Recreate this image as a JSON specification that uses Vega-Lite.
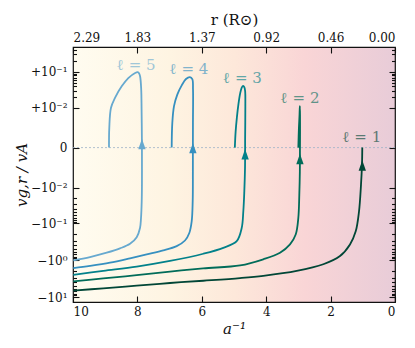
{
  "$schema": "https://vega.github.io/schema/vega-lite/v6.json",
  "width": 322,
  "height": 255,
  "autosize": "none",
  "padding": {"left": 73, "top": 47, "right": 20, "bottom": 46},
  "background": "white",
  "datasets": {
    "curves": [
      {"l":5,"i":0,"x":9.991,"y":-1.006},{"l":5,"i":1,"x":9.472,"y":-0.821},{"l":5,"i":2,"x":8.953,"y":-0.629},{"l":5,"i":3,"x":8.540,"y":-0.480},{"l":5,"i":4,"x":8.230,"y":-0.361},{"l":5,"i":5,"x":8.022,"y":-0.239},{"l":5,"i":6,"x":7.919,"y":-0.134},{"l":5,"i":7,"x":7.888,"y":-0.072},{"l":5,"i":8,"x":7.866,"y":-0.0251},{"l":5,"i":9,"x":7.859,"y":-0.0083},{"l":5,"i":10,"x":7.859,"y":-0.0002},{"l":5,"i":11,"x":7.860,"y":0.0005},{"l":5,"i":12,"x":7.870,"y":0.0088},{"l":5,"i":13,"x":7.882,"y":0.0334},{"l":5,"i":14,"x":7.915,"y":0.0749},{"l":5,"i":15,"x":7.950,"y":0.092},{"l":5,"i":16,"x":7.990,"y":0.0985},{"l":5,"i":17,"x":8.070,"y":0.0935},{"l":5,"i":18,"x":8.283,"y":0.0677},{"l":5,"i":19,"x":8.488,"y":0.0400},{"l":5,"i":20,"x":8.696,"y":0.0191},{"l":5,"i":21,"x":8.820,"y":0.00984},{"l":5,"i":22,"x":8.873,"y":0.00216},{"l":5,"i":23,"x":8.882,"y":0},
      {"l":4,"i":0,"x":9.991,"y":-1.648},{"l":4,"i":1,"x":9.472,"y":-1.430},{"l":4,"i":2,"x":8.851,"y":-1.167},{"l":4,"i":3,"x":8.230,"y":-0.889},{"l":4,"i":4,"x":7.711,"y":-0.695},{"l":4,"i":5,"x":7.196,"y":-0.543},{"l":4,"i":6,"x":6.780,"y":-0.416},{"l":4,"i":7,"x":6.522,"y":-0.293},{"l":4,"i":8,"x":6.388,"y":-0.183},{"l":4,"i":9,"x":6.314,"y":-0.0886},{"l":4,"i":10,"x":6.283,"y":-0.0251},{"l":4,"i":11,"x":6.277,"y":-0.00312},{"l":4,"i":12,"x":6.277,"y":-0.0002},{"l":4,"i":13,"x":6.275,"y":0.0033},{"l":4,"i":14,"x":6.273,"y":0.0334},{"l":4,"i":15,"x":6.295,"y":0.0636},{"l":4,"i":16,"x":6.370,"y":0.0721},{"l":4,"i":17,"x":6.491,"y":0.0636},{"l":4,"i":18,"x":6.624,"y":0.0426},{"l":4,"i":19,"x":6.761,"y":0.0236},{"l":4,"i":20,"x":6.863,"y":0.0110},{"l":4,"i":21,"x":6.916,"y":0.0033},{"l":4,"i":22,"x":6.935,"y":0},
      {"l":3,"i":0,"x":9.991,"y":-2.490},{"l":3,"i":1,"x":9.059,"y":-1.947},{"l":3,"i":2,"x":8.022,"y":-1.493},{"l":3,"i":3,"x":6.988,"y":-1.051},{"l":3,"i":4,"x":5.953,"y":-0.670},{"l":3,"i":5,"x":5.332,"y":-0.463},{"l":3,"i":6,"x":4.916,"y":-0.306},{"l":3,"i":7,"x":4.761,"y":-0.134},{"l":3,"i":8,"x":4.711,"y":-0.0474},{"l":3,"i":9,"x":4.680,"y":-0.0131},{"l":3,"i":10,"x":4.658,"y":-0.00236},{"l":3,"i":11,"x":4.655,"y":-0.0002},{"l":3,"i":12,"x":4.655,"y":0.0005},{"l":3,"i":13,"x":4.648,"y":0.011},{"l":3,"i":14,"x":4.655,"y":0.030},{"l":3,"i":15,"x":4.680,"y":0.038},{"l":3,"i":16,"x":4.715,"y":0.041},{"l":3,"i":17,"x":4.760,"y":0.037},{"l":3,"i":18,"x":4.810,"y":0.025},{"l":3,"i":19,"x":4.860,"y":0.013},{"l":3,"i":20,"x":4.910,"y":0.005},{"l":3,"i":21,"x":4.950,"y":0.0015},{"l":3,"i":22,"x":4.974,"y":0},
      {"l":2,"i":0,"x":9.991,"y":-3.762},{"l":2,"i":1,"x":9.059,"y":-3.127},{"l":2,"i":2,"x":8.022,"y":-2.538},{"l":2,"i":3,"x":6.988,"y":-2.032},{"l":2,"i":4,"x":5.957,"y":-1.670},{"l":2,"i":5,"x":4.809,"y":-1.387},{"l":2,"i":6,"x":4.090,"y":-0.946},{"l":2,"i":7,"x":3.571,"y":-0.629},{"l":2,"i":8,"x":3.261,"y":-0.375},{"l":2,"i":9,"x":3.084,"y":-0.202},{"l":2,"i":10,"x":3.003,"y":-0.072},{"l":2,"i":11,"x":2.972,"y":-0.0163},{"l":2,"i":12,"x":2.955,"y":-0.00312},{"l":2,"i":13,"x":2.952,"y":-0.0002},{"l":2,"i":14,"x":2.950,"y":0.0005},{"l":2,"i":15,"x":2.950,"y":0.006},{"l":2,"i":16,"x":2.955,"y":0.0110},{"l":2,"i":17,"x":2.965,"y":0.006},{"l":2,"i":18,"x":2.985,"y":0.002},{"l":2,"i":19,"x":3.002,"y":0},
      {"l":1,"i":0,"x":9.991,"y":-6.668},{"l":1,"i":1,"x":9.059,"y":-5.789},{"l":1,"i":2,"x":8.022,"y":-4.905},{"l":1,"i":3,"x":6.988,"y":-4.150},{"l":1,"i":4,"x":5.953,"y":-3.603},{"l":1,"i":5,"x":4.814,"y":-3.049},{"l":1,"i":6,"x":4.090,"y":-2.646},{"l":1,"i":7,"x":3.053,"y":-1.947},{"l":1,"i":8,"x":2.227,"y":-1.288},{"l":1,"i":9,"x":1.708,"y":-0.772},{"l":1,"i":10,"x":1.398,"y":-0.375},{"l":1,"i":11,"x":1.220,"y":-0.165},{"l":1,"i":12,"x":1.118,"y":-0.0474},{"l":1,"i":13,"x":1.056,"y":-0.0083},{"l":1,"i":14,"x":1.025,"y":-0.00173},{"l":1,"i":15,"x":1.016,"y":0}
    ],
    "arrows": [
      {"l":5,"x":7.859,"y":0.000225},{"l":4,"x":6.277,"y":-0.00003},{"l":3,"x":4.655,"y":-0.00047},{"l":2,"x":2.952,"y":-0.00094},{"l":1,"x":1.016,"y":-0.00185}
    ],
    "labels": [
      {"l":5,"x":8.04,"y":0.155,"text":"ℓ = 5"},{"l":4,"x":6.40,"y":0.119,"text":"ℓ = 4"},{"l":3,"x":4.74,"y":0.070,"text":"ℓ = 3"},{"l":2,"x":2.95,"y":0.0186,"text":"ℓ = 2"},{"l":1,"x":1.03,"y":0.00082,"text":"ℓ = 1"}
    ],
    "zero": [{"v":0}]
  },
  "layer": [
    {
      "data": {"name": "zero"},
      "mark": {"type": "rule", "color": "#9db3c6", "strokeWidth": 0.8, "strokeDash": [2, 2]},
      "encoding": {
        "y": {"field": "v", "type": "quantitative",
          "scale": {"type": "symlog", "constant": 0.0009, "domain": [-13.56, 0.474], "nice": false, "zero": false},
          "axis": {"orient": "right", "labels": false, "title": null, "tickSize": -3.5,
            "values": [-9,-8,-7,-6,-5,-4,-3,-2,-0.9,-0.8,-0.7,-0.6,-0.5,-0.4,-0.3,-0.2,-0.09,-0.08,-0.07,-0.06,-0.05,-0.04,-0.03,-0.02,0.02,0.03,0.04,0.05,0.06,0.07,0.08,0.09,0.2,0.3,0.4]}}
      }
    },
    {
      "data": {"name": "curves"},
      "mark": {"type": "line", "strokeWidth": 1.8, "interpolate": "catmull-rom"},
      "encoding": {
        "x": {"field": "x", "type": "quantitative",
          "scale": {"domain": [10, 0], "nice": false, "zero": false},
          "axis": {"orient": "bottom", "values": [10, 8, 6, 4, 2, 0], "title": "a⁻¹", "titleFontStyle": "italic", "labelPadding": 10, "titlePadding": 4}},
        "y": {"field": "y", "type": "quantitative",
          "scale": {"type": "symlog", "constant": 0.0009, "domain": [-13.56, 0.474], "nice": false, "zero": false},
          "axis": {"orient": "left", "values": [-10, -1, -0.1, -0.01, 0, 0.01, 0.1],
            "labelExpr": "datum.value == 0.1 ? '+10⁻¹' : datum.value == 0.01 ? '+10⁻²' : datum.value == 0 ? '0' : datum.value == -0.01 ? '−10⁻²' : datum.value == -0.1 ? '−10⁻¹' : datum.value == -1 ? '−10⁰' : '−10¹'",
            "title": "vg,r / vA", "titleFontStyle": "italic", "labelPadding": 12, "titlePadding": 1}},
        "color": {"field": "l", "type": "ordinal", "legend": null,
          "scale": {"domain": [1, 2, 3, 4, 5], "range": ["#014636", "#016c59", "#02818a", "#3690c0", "#67a9cf"]}},
        "detail": {"field": "l"},
        "order": {"field": "i", "type": "quantitative"}
      }
    },
    {
      "data": {"name": "arrows"},
      "mark": {"type": "point", "filled": true, "opacity": 1, "size": 110, "shape": "M0,-1L0.7,1L-0.7,1Z"},
      "encoding": {
        "x": {"field": "x", "type": "quantitative",
          "scale": {"domain": [10, 0], "nice": false, "zero": false},
          "axis": {"orient": "top", "values": [10, 8, 6, 4, 2, 0], "labelExpr": "format(datum.value * 0.229, '.2f')", "title": "r (R⊙)", "labelPadding": 9, "titlePadding": 4}},
        "y": {"field": "y", "type": "quantitative",
          "scale": {"type": "symlog", "constant": 0.0009, "domain": [-13.56, 0.474], "nice": false, "zero": false},
          "axis": {"orient": "right", "values": [-10, -1, -0.1, -0.01, 0, 0.01, 0.1], "labels": false, "title": null}},
        "color": {"field": "l", "type": "ordinal", "legend": null,
          "scale": {"domain": [1, 2, 3, 4, 5], "range": ["#014636", "#016c59", "#02818a", "#3690c0", "#67a9cf"]}}
      }
    },
    {
      "data": {"name": "labels"},
      "mark": {"type": "text", "font": "DejaVu Serif", "fontSize": 15, "opacity": 0.62, "baseline": "middle", "align": "center"},
      "encoding": {
        "x": {"field": "x", "type": "quantitative", "scale": {"domain": [10, 0], "nice": false, "zero": false}, "axis": null},
        "y": {"field": "y", "type": "quantitative",
          "scale": {"type": "symlog", "constant": 0.0009, "domain": [-13.56, 0.474], "nice": false, "zero": false},
          "axis": {"orient": "left", "labels": false, "title": null, "tickSize": -3.5,
            "values": [-9,-8,-7,-6,-5,-4,-3,-2,-0.9,-0.8,-0.7,-0.6,-0.5,-0.4,-0.3,-0.2,-0.09,-0.08,-0.07,-0.06,-0.05,-0.04,-0.03,-0.02,0.02,0.03,0.04,0.05,0.06,0.07,0.08,0.09,0.2,0.3,0.4]}},
        "text": {"field": "text"},
        "color": {"field": "l", "type": "ordinal", "legend": null,
          "scale": {"domain": [1, 2, 3, 4, 5], "range": ["#014636", "#016c59", "#02818a", "#3690c0", "#67a9cf"]}}
      }
    }
  ],
  "resolve": {"axis": {"x": "independent", "y": "independent"}},
  "config": {
    "font": "DejaVu Serif",
    "view": {
      "stroke": "#111111",
      "strokeWidth": 1.2,
      "fill": {"gradient": "linear", "x1": 0, "y1": 0, "x2": 1, "y2": 0,
        "stops": [
          {"offset": 0, "color": "#fffcf0"},
          {"offset": 0.3, "color": "#fef4e2"},
          {"offset": 0.5, "color": "#fde8da"},
          {"offset": 0.72, "color": "#f9d5d6"},
          {"offset": 1, "color": "#e8ccd8"}
        ]}
    },
    "axis": {
      "grid": false, "domain": false, "zindex": 1,
      "labelFont": "DejaVu Serif", "labelFontSize": 12, "labelColor": "#111111",
      "titleFont": "DejaVu Serif", "titleFontSize": 15, "titleFontWeight": "normal", "titleColor": "#111111",
      "tickColor": "#111111", "tickSize": -6, "tickWidth": 1.1
    }
  }
}
